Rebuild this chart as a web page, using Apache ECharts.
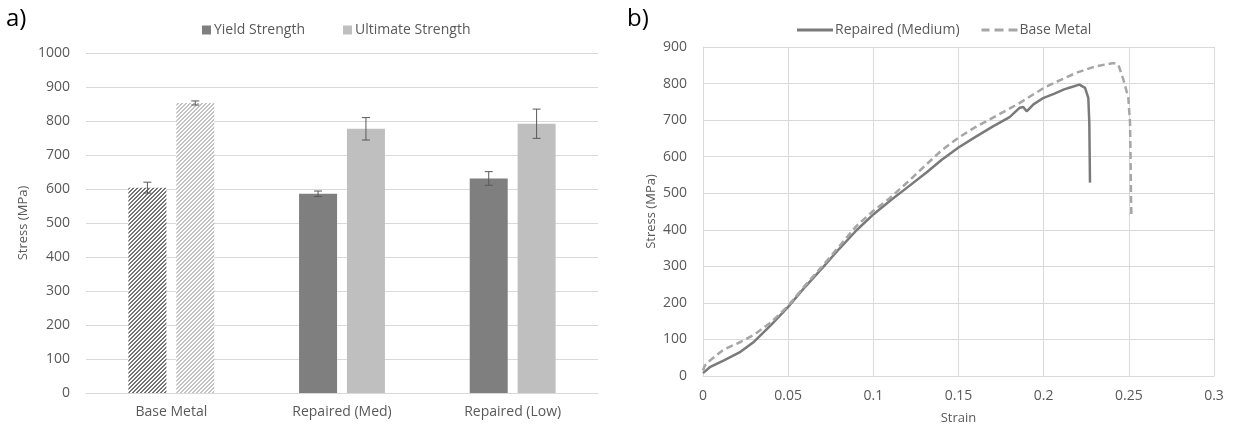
<!DOCTYPE html>
<html><head><meta charset="utf-8">
<script src="https://cdn.jsdelivr.net/npm/echarts@6/dist/echarts.min.js"></script>
<style>html,body{margin:0;padding:0;background:#fff}#c{width:1233px;height:430px}</style>
</head><body><div id="c"></div>
<script>
// ---- data: panel a) ----
const categories = ['Base Metal', 'Repaired (Med)', 'Repaired (Low)'];
const yieldMean = [604, 586, 631];
const yieldErr  = [16, 8, 20];
const ultMean   = [853, 777, 792];
const ultErr    = [6, 33, 43];

// ---- data: panel b) ----
const repairedStrain = [0, 0.004, 0.012, 0.022, 0.03, 0.04, 0.05, 0.06, 0.07, 0.08, 0.09, 0.1, 0.11, 0.12, 0.131, 0.14, 0.15, 0.16, 0.17, 0.18, 0.186, 0.188, 0.19, 0.194, 0.2, 0.206, 0.212, 0.216, 0.221, 0.2243, 0.2262, 0.2268, 0.2272];
const repairedStress = [8, 24, 42, 66, 94, 140, 189, 244, 295, 348, 398, 442, 480, 516, 556, 591, 625, 654, 682, 708, 734, 736, 724, 743, 761, 772, 784, 790, 797, 788, 761, 693, 529];
const baseStrain = [0, 0.001, 0.004, 0.012, 0.022, 0.03, 0.04, 0.05, 0.06, 0.07, 0.08, 0.09, 0.1, 0.109, 0.12, 0.131, 0.14, 0.15, 0.16, 0.17, 0.186, 0.2, 0.21, 0.219, 0.229, 0.236, 0.241, 0.2438, 0.2468, 0.2497, 0.2507, 0.251, 0.2513, 0.2515];
const baseStress = [15, 28, 42, 72, 93, 113, 147, 192, 248, 300, 355, 410, 452, 484, 530, 578, 617, 652, 681, 706, 747, 788, 810, 829, 845, 852, 856, 852, 811, 761, 693, 602, 484, 438];

const FONT = 'Open Sans';
const TXT = '#595959';
const GRID = '#d9d9d9';
const BAR_W = 38, BAR_GAP = 0.26;
const SOLID_ICON = 'path://M0,0h36v3h-36z';
const DASH_ICON = 'path://M0,0h8v3h-8z M13,0h9v3h-9z M27,0h9v3h-9z';

function hatch(fg, bg) {
  const c = document.createElement('canvas');
  c.width = 8; c.height = 8;
  const ctx = c.getContext('2d');
  ctx.fillStyle = bg; ctx.fillRect(0, 0, 8, 8);
  ctx.fillStyle = fg;
  for (let x = 0; x < 8; x++) for (let y = 0; y < 8; y++) {
    const k = (x + y) % 4;
    if (k === 0 || k === 1) ctx.fillRect(x, y, 1, 1);
  }
  return { image: c, repeat: 'repeat' };
}
const hatchDark = hatch('#727272', '#ffffff');
const hatchLight = hatch('#c2c2c2', '#ffffff');

function errSeries(mean, err, sign) {
  return {
    type: 'custom', xAxisIndex: 0, yAxisIndex: 0, silent: true, z: 5,
    data: mean.map((m, i) => [i, m - err[i], m + err[i]]),
    encode: { x: 0, y: [1, 2] },
    renderItem: function (params, api) {
      const off = sign * (BAR_W + BAR_W * BAR_GAP) / 2;
      const lo = api.coord([api.value(0), api.value(1)]);
      const hi = api.coord([api.value(0), api.value(2)]);
      const x = lo[0] + off, cw = 4;
      const st = { stroke: '#595959', lineWidth: 1 };
      return { type: 'group', children: [
        { type: 'line', shape: { x1: x, y1: lo[1], x2: x, y2: hi[1] }, style: st },
        { type: 'line', shape: { x1: x - cw, y1: lo[1], x2: x + cw, y2: lo[1] }, style: st },
        { type: 'line', shape: { x1: x - cw, y1: hi[1], x2: x + cw, y2: hi[1] }, style: st }
      ]};
    }
  };
}

const chart = echarts.init(document.getElementById('c'), null, { renderer: 'canvas' });
chart.setOption({
  animation: false,
  textStyle: { fontFamily: FONT },
  graphic: [
    { type: 'text', left: 6, top: 7, style: { text: 'a)', font: '24px "Open Sans"', fill: '#000' } },
    { type: 'text', left: 627, top: 7, style: { text: 'b)', font: '24px "Open Sans"', fill: '#000' } }
  ],
  legend: [
    { data: ['Yield Strength', 'Ultimate Strength'], left: 197, top: 18, itemWidth: 9, itemHeight: 9, itemGap: 38,
      icon: 'rect', textStyle: { color: TXT, fontSize: 14, fontFamily: FONT, padding: [0, 0, 0, -2] } },
    { data: [{ name: 'Repaired (Medium)', icon: SOLID_ICON }, { name: 'Base Metal', icon: DASH_ICON }],
      left: 792, top: 18, itemWidth: 36, itemHeight: 3, itemGap: 22,
      textStyle: { color: TXT, fontSize: 14, fontFamily: FONT, padding: [0, 0, 0, -3] } }
  ],
  grid: [
    { left: 86, right: 635, top: 53, bottom: 37 },
    { left: 703, right: 19, top: 47, bottom: 52 }
  ],
  xAxis: [
    { type: 'category', gridIndex: 0, data: categories,
      axisLine: { lineStyle: { color: GRID } }, axisTick: { show: false },
      axisLabel: { color: TXT, fontSize: 14, margin: 12, fontFamily: FONT } },
    { type: 'value', gridIndex: 1, min: 0, max: 0.3, interval: 0.05, name: 'Strain', nameLocation: 'middle', nameGap: 36,
      nameTextStyle: { color: TXT, fontSize: 13, fontFamily: FONT },
      axisLine: { show: true, lineStyle: { color: GRID } }, axisTick: { show: false },
      splitLine: { show: true, lineStyle: { color: GRID } },
      axisLabel: { color: TXT, fontSize: 14, margin: 13, fontFamily: FONT } }
  ],
  yAxis: [
    { type: 'value', gridIndex: 0, min: 0, max: 1000, interval: 100, name: 'Stress (MPa)', nameLocation: 'middle', nameGap: 56,
      nameTextStyle: { color: TXT, fontSize: 13, fontFamily: FONT },
      axisLine: { show: false }, axisTick: { show: false },
      splitLine: { lineStyle: { color: GRID } },
      axisLabel: { color: TXT, fontSize: 14, margin: 16, fontFamily: FONT, formatter: v => String(v) } },
    { type: 'value', gridIndex: 1, min: 0, max: 900, interval: 100, name: 'Stress (MPa)', nameLocation: 'middle', nameGap: 45,
      nameTextStyle: { color: TXT, fontSize: 13, fontFamily: FONT },
      axisLine: { show: true, lineStyle: { color: GRID } }, axisTick: { show: false },
      splitLine: { lineStyle: { color: GRID } },
      axisLabel: { color: TXT, fontSize: 14, margin: 16, fontFamily: FONT, formatter: v => String(v) } }
  ],
  series: [
    { name: 'Yield Strength', type: 'bar', xAxisIndex: 0, yAxisIndex: 0, barWidth: BAR_W, barGap: (BAR_GAP * 100) + '%',
      itemStyle: { color: '#7f7f7f' },
      data: yieldMean.map((v, i) => i === 0 ? { value: v, itemStyle: { color: hatchDark } } : v) },
    { name: 'Ultimate Strength', type: 'bar', xAxisIndex: 0, yAxisIndex: 0, barWidth: BAR_W, barGap: (BAR_GAP * 100) + '%',
      itemStyle: { color: '#bfbfbf' },
      data: ultMean.map((v, i) => i === 0 ? { value: v, itemStyle: { color: hatchLight } } : v) },
    errSeries(yieldMean, yieldErr, -1),
    errSeries(ultMean, ultErr, 1),
    { name: 'Repaired (Medium)', type: 'line', xAxisIndex: 1, yAxisIndex: 1, showSymbol: false, symbol: 'none',
      lineStyle: { color: '#7a7a7a', width: 2.5 }, itemStyle: { color: '#7a7a7a' },
      data: repairedStrain.map((s, i) => [s, repairedStress[i]]) },
    { name: 'Base Metal', type: 'line', xAxisIndex: 1, yAxisIndex: 1, showSymbol: false, symbol: 'none',
      lineStyle: { color: '#a6a6a6', width: 2.5, type: [7, 4] }, itemStyle: { color: '#a6a6a6' },
      data: baseStrain.map((s, i) => [s, baseStress[i]]) }
  ]
});
</script></body></html>
